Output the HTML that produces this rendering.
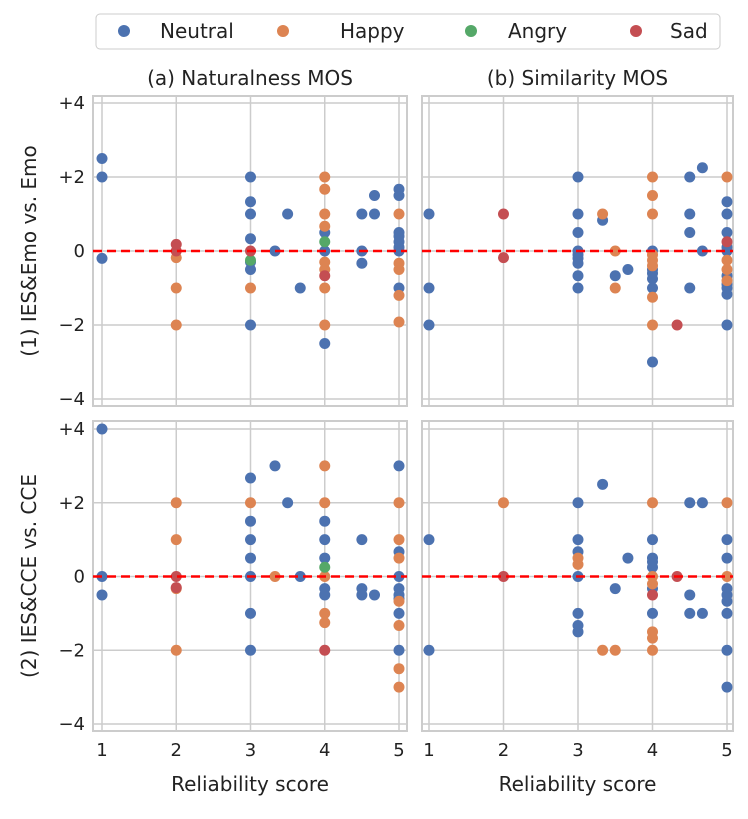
<!DOCTYPE html>
<html><head><meta charset="utf-8">
<style>
body{margin:0;background:#fff;font-family:"Liberation Sans","DejaVu Sans",sans-serif;}
svg text{font-family:"DejaVu Sans","Liberation Sans",sans-serif;fill:#222;}
</style></head>
<body>
<svg id="chart" width="748" height="814" viewBox="0 0 748 814" xmlns="http://www.w3.org/2000/svg"></svg>
<script>
const categories = ["Neutral","Happy","Angry","Sad"];
const colors = ["#4C72B0","#DD8452","#55A868","#C44E52"];
const xTicks = [1,2,3,4,5];
const yTicks = [4,2,0,-2,-4];
const yTickLabels = ["+4","+2","0","\u22122","\u22124"];
const colTitles = ["(a) Naturalness MOS","(b) Similarity MOS"];
const rowTitles = ["(1) IES&Emo vs. Emo","(2) IES&CCE vs. CCE"];

// Panel 1a
const p1a_neutral_x = [1,1,1,3,3,3,3,3,3,3,3.33,3.5,3.67,4,4,4,4.5,4.5,4.5,4.67,4.67,5,5,5,5,5,5,5,5];
const p1a_neutral_y = [2.5,2,-0.2,2,1.33,1,0.33,-0.3,-0.5,-2,0,1,-1,0.5,0,-2.5,1,0,-0.33,1.5,1,1.67,1.5,0.5,0.4,0.25,0.1,0,-1];
const p1a_happy_x = [2,2,2,3,4,4,4,4,4,4,4,4,5,5,5,5,5];
const p1a_happy_y = [-0.18,-1,-2,-1,2,1.67,1,0.67,-0.3,-0.5,-1,-2,1,-0.33,-0.5,-1.2,-1.92];
const p1a_angry_x = [3,4];
const p1a_angry_y = [-0.25,0.25];
const p1a_sad_x = [2,2,3,4];
const p1a_sad_y = [0.18,0,0,-0.67];
// Panel 1b
const p1b_neutral_x = [1,1,1,3,3,3,3,3,3,3,3,3,3.33,3.5,3.67,4,4,4,4,4,4,4.5,4.5,4.5,4.5,4.67,4.67,5,5,5,5,5,5,5,5,5,5];
const p1b_neutral_y = [1,-1,-2,2,1,0.5,0,-0.1,-0.2,-0.33,-0.67,-1,0.83,-0.67,-0.5,0,-0.5,-0.6,-0.75,-1,-3,2,1,0.5,-1,2.25,0,1.33,1,0.5,0.1,0,-0.67,-0.9,-1,-1.17,-2];
const p1b_happy_x = [3.33,3.5,3.5,4,4,4,4,4,4,4,4,5,5,5,5];
const p1b_happy_y = [1,0,-1,2,1.5,1,-0.1,-0.25,-0.4,-1.25,-2,2,-0.25,-0.5,-0.8];
const p1b_angry_x = [];
const p1b_angry_y = [];
const p1b_sad_x = [2,2,4.33,5];
const p1b_sad_y = [1,-0.18,-2,0.25];
// Panel 2a
const p2a_neutral_x = [1,1,1,3,3,3,3,3,3,3,3.33,3.5,3.67,4,4,4,4,4,4.5,4.5,4.5,4.67,5,5,5,5,5,5,5,5];
const p2a_neutral_y = [4,0,-0.5,2.67,1.5,1,0.5,0,-1,-2,3,2,0,1.5,1,0.5,-0.33,-0.5,1,-0.33,-0.5,-0.5,3,0.67,0,-0.33,-0.5,-0.6,-1,-2];
const p2a_happy_x = [2,2,2,2,3,3.33,4,4,4,4,4,5,5,5,5,5,5,5];
const p2a_happy_y = [2,1,-0.33,-2,2,0,3,2,0,-1,-1.25,2,1,0.5,-0.67,-1.33,-2.5,-3];
const p2a_angry_x = [4];
const p2a_angry_y = [0.25];
const p2a_sad_x = [2,2,4];
const p2a_sad_y = [0,-0.3,-2];
// Panel 2b
const p2b_neutral_x = [1,1,3,3,3,3,3,3,3,3.33,3.5,3.67,4,4,4,4,4,4,4.5,4.5,4.5,4.67,4.67,5,5,5,5,5,5,5,5];
const p2b_neutral_y = [1,-2,2,1,0.67,0,-1,-1.33,-1.5,2.5,-0.33,0.5,1,0.5,0.4,0.25,-0.33,-1,2,-0.5,-1,2,-1,1,0.5,-0.33,-0.5,-0.67,-1,-2,-3];
const p2b_happy_x = [2,3,3,3.33,3.5,4,4,4,4,4,4,5,5];
const p2b_happy_y = [2,0.5,0.33,-2,-2,2,0,-0.2,-1.5,-1.67,-2,2,0];
const p2b_angry_x = [];
const p2b_angry_y = [];
const p2b_sad_x = [2,4.33,4];
const p2b_sad_y = [0,0,-0.5];

const panels = [
 {name:"panel-1a",col:0,row:0,series:[[p1a_neutral_x,p1a_neutral_y],[p1a_happy_x,p1a_happy_y],[p1a_angry_x,p1a_angry_y],[p1a_sad_x,p1a_sad_y]]},
 {name:"panel-1b",col:1,row:0,series:[[p1b_neutral_x,p1b_neutral_y],[p1b_happy_x,p1b_happy_y],[p1b_angry_x,p1b_angry_y],[p1b_sad_x,p1b_sad_y]]},
 {name:"panel-2a",col:0,row:1,series:[[p2a_neutral_x,p2a_neutral_y],[p2a_happy_x,p2a_happy_y],[p2a_angry_x,p2a_angry_y],[p2a_sad_x,p2a_sad_y]]},
 {name:"panel-2b",col:1,row:1,series:[[p2b_neutral_x,p2b_neutral_y],[p2b_happy_x,p2b_happy_y],[p2b_angry_x,p2b_angry_y],[p2b_sad_x,p2b_sad_y]]}
];

const NS="http://www.w3.org/2000/svg";
const svg=document.getElementById("chart");
function mk(tag,attrs,parent){const e=document.createElementNS(NS,tag);for(const k in attrs)e.setAttribute(k,attrs[k]);(parent||svg).appendChild(e);return e;}

const colFrame=[[93,407],[422,733]];
const colX=[[102,399],[429,727]];
const rowFrame=[[96,406],[421,731]];
const rowY=[[103,399],[429,724]];

const lg=mk("g",{});


mk("rect",{x:96,y:14,width:624,height:35,rx:4,fill:"#fff",stroke:"#ccc","stroke-width":1},lg);
const legDot=[124,283,471,636], legTx=[160,340,508,670];
categories.forEach((c,i)=>{
  const g=mk("g",{},lg);
  
  
  mk("circle",{cx:legDot[i],cy:31,r:6,fill:colors[i]},g);
  const t=mk("text",{x:legTx[i],y:38,"font-size":20},g);t.textContent=c;
});

colTitles.forEach((t,i)=>{
  const e=mk("text",{x:(colFrame[i][0]+colFrame[i][1])/2,y:85,"text-anchor":"middle","font-size":20});
  
  
  e.textContent=t;
});
rowTitles.forEach((t,i)=>{
  const cy=(rowFrame[i][0]+rowFrame[i][1])/2;
  const e=mk("text",{x:0,y:0,"text-anchor":"middle","font-size":20,transform:`translate(36,${cy}) rotate(-90)`});
  
  
  e.textContent=t;
});

panels.forEach(p=>{
  const fx=colFrame[p.col], fy=rowFrame[p.row], ax=colX[p.col], ay=rowY[p.row];
  const X=v=>ax[0]+(v-1)*(ax[1]-ax[0])/4;
  const Y=v=>ay[0]+(4-v)*(ay[1]-ay[0])/8;
  const g=mk("g",{});
  
  
  mk("rect",{x:fx[0],y:fy[0],width:fx[1]-fx[0],height:fy[1]-fy[0],fill:"#fff",stroke:"#ccc","stroke-width":2},g);
  xTicks.forEach(v=>mk("line",{x1:X(v),x2:X(v),y1:fy[0],y2:fy[1],stroke:"#ccc","stroke-width":1.5},g));
  yTicks.forEach(v=>mk("line",{x1:fx[0],x2:fx[1],y1:Y(v),y2:Y(v),stroke:"#ccc","stroke-width":1.5},g));
  if(p.col===0){yTicks.forEach((v,i)=>{const t=mk("text",{x:fx[0]-8,y:Y(v)+6,"text-anchor":"end","font-size":18});t.textContent=yTickLabels[i];});}
  if(p.row===1){xTicks.forEach(v=>{const t=mk("text",{x:X(v),y:fy[1]+25,"text-anchor":"middle","font-size":18});t.textContent=String(v);});
    const xt=mk("text",{x:(fx[0]+fx[1])/2,y:791,"text-anchor":"middle","font-size":20});xt.textContent="Reliability score";}
  p.series.forEach((s,si)=>{
    s[0].forEach((xv,k)=>{
      const c=mk("circle",{cx:X(xv),cy:Y(s[1][k]),r:5.5,fill:colors[si]},g);
      
      
    });
  });
  const zl=mk("line",{x1:fx[0],x2:fx[1],y1:Y(0),y2:Y(0),stroke:"#ff0000","stroke-width":2.5,"stroke-dasharray":"9,5"},g);
  
  
});
</script>
</body></html>
